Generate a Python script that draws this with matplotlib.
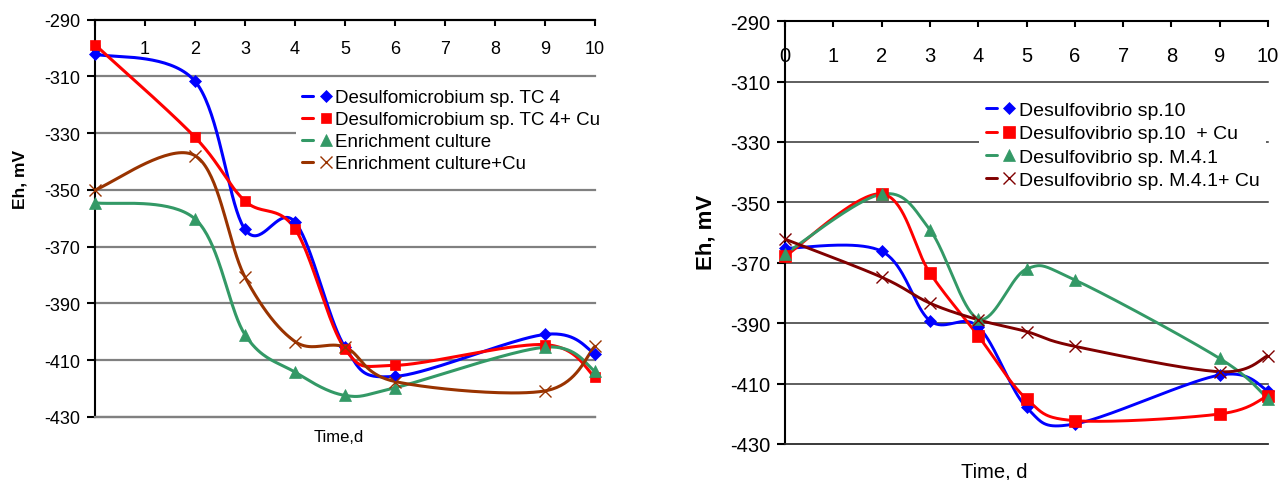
import numpy as np
import matplotlib
matplotlib.use("Agg")
import matplotlib.pyplot as plt
from matplotlib.legend_handler import HandlerTuple

plt.rcParams['font.family'] = ['Liberation Sans', 'DejaVu Sans']

# ---------------- data ----------------
days = [0, 2, 3, 4, 5, 6, 9, 10]
x_ticks = [0, 1, 2, 3, 4, 5, 6, 7, 8, 9, 10]
y_ticks = [-290, -310, -330, -350, -370, -390, -410, -430]

left_labels = ["Desulfomicrobium sp. TC 4", "Desulfomicrobium sp. TC 4+ Cu",
               "Enrichment culture", "Enrichment culture+Cu"]
left_tc4 = [-302.1, -311.7, -363.9, -361.3, -405.4, -415.7, -400.9, -407.7]
left_tc4_cu = [-298.8, -331.4, -353.9, -363.7, -406.0, -411.8, -404.5, -415.9]
left_enrich = [-354.5, -360.2, -401.0, -414.2, -422.4, -419.7, -405.4, -413.8]
left_enrich_cu = [-350.0, -337.9, -380.7, -403.4, -405.4, -417.5, -420.8, -405.1]

right_labels = ["Desulfovibrio sp.10", "Desulfovibrio sp.10  + Cu",
                "Desulfovibrio sp. M.4.1", "Desulfovibrio sp. M.4.1+ Cu"]
right_sp10 = [-365.2, -366.2, -389.2, -391.2, -417.9, -423.4, -407.2, -412.4]
right_sp10_cu = [-367.9, -347.2, -373.4, -394.2, -415.1, -422.3, -420.1, -414.0]
right_m41 = [-367.1, -347.3, -359.1, -388.6, -372.1, -375.7, -401.7, -415.1]
right_m41_cu = [-362.2, -374.8, -383.4, -388.9, -392.8, -397.7, -406.1, -400.8]

W, H = 1281, 481
fig = plt.figure(figsize=(W / 100, H / 100), dpi=100)


def fig_rect(x0, y0, x1, y1):
    return [x0 / W, 1 - y1 / H, (x1 - x0) / W, (y1 - y0) / H]


def smooth(ax, x, y, n=40):
    pts = ax.transData.transform(np.column_stack([x, y]))
    out = []
    for i in range(len(pts) - 1):
        p0 = pts[i - 1] if i > 0 else pts[i]
        p1, p2 = pts[i], pts[i + 1]
        p3 = pts[i + 2] if i + 2 < len(pts) else pts[i + 1]
        c1 = p1 + (p2 - p0) / 6.0
        c2 = p2 - (p3 - p1) / 6.0
        t = np.linspace(0, 1, n)[:, None]
        seg = ((1 - t) ** 3) * p1 + 3 * ((1 - t) ** 2) * t * c1 + 3 * (1 - t) * t ** 2 * c2 + t ** 3 * p2
        out.append(seg if i == 0 else seg[1:])
    res = ax.transData.inverted().transform(np.vstack(out))
    return res[:, 0], res[:, 1]


def setup(ax, grid_color, grid_lw, tick_fs, xpad, spine_lw):
    ax.set_xlim(0, 10)
    ax.set_ylim(-430, -290)
    ax.spines['right'].set_visible(False)
    ax.spines['bottom'].set_color(grid_color)
    ax.spines['bottom'].set_linewidth(grid_lw)
    for s in ['left', 'top']:
        ax.spines[s].set_linewidth(spine_lw)
        ax.spines[s].set_color('black')
    ax.set_yticks(y_ticks)
    ax.set_yticklabels([str(v) for v in y_ticks])
    ax.set_xticks(x_ticks)
    ax.set_xticklabels([str(v) for v in x_ticks])
    ax.xaxis.set_ticks_position('top')
    ax.tick_params(axis='x', top=True, bottom=False, labeltop=True, labelbottom=False,
                   direction='in', length=4.5, width=spine_lw, pad=xpad, labelsize=tick_fs)
    ax.tick_params(axis='y', direction='out', length=5.5, width=spine_lw, pad=5,
                   labelsize=tick_fs)
    ax.yaxis.grid(True, color=grid_color, linewidth=grid_lw)
    for gl in ax.get_ygridlines():
        gl.set_clip_on(False)
    ax.set_axisbelow(True)


# ---------------- left chart ----------------
axL = fig.add_axes(fig_rect(95, 20.7, 595, 418))
setup(axL, '#808080', 1.6, 13, -26.5, 1.5)

left_series = [left_tc4, left_tc4_cu, left_enrich, left_enrich_cu]
left_styles = [
    dict(color='#0000FF', marker='D', ms=6.5, mew=0.5),
    dict(color='#FF0000', marker='s', ms=7.5, mew=0.5),
    dict(color='#339966', marker='^', ms=8.5, mew=0.5),
    dict(color='#993300', marker='x', ms=8, mew=1.0),
]
handlesL = []
for ys, st, lab in zip(left_series, left_styles, left_labels):
    sx, sy = smooth(axL, days, ys)
    ln, = axL.plot(sx, sy, color=st['color'], lw=2.2, solid_capstyle='round', zorder=3)
    mk, = axL.plot(days, ys, ls='none', marker=st['marker'], ms=st['ms'],
                   color=st['color'], mec=st['color'], mew=st['mew'], zorder=4, clip_on=False)
    handlesL.append((ln, mk))

legL = fig.legend(handlesL, left_labels, loc='upper left',
                  bbox_to_anchor=(295.5 / W, 1 - 83.5 / H), bbox_transform=fig.transFigure,
                  fontsize=13.5, frameon=True, facecolor='white', edgecolor='none', framealpha=1,
                  fancybox=False, borderpad=0.35, borderaxespad=0, handlelength=1.55,
                  handletextpad=0.22, labelspacing=0.26, numpoints=1,
                  handler_map={tuple: HandlerTuple(ndivide=None)})

fig.text(20 / W, 1 - 179 / H, 'Eh, mV', rotation=90, ha='center', va='center',
         fontsize=12.5, fontweight='bold')
fig.text(339 / W, 1 - 442 / H, 'Time,d', ha='center', va='baseline', fontsize=12)

# ---------------- right chart ----------------
axR = fig.add_axes(fig_rect(785, 22.1, 1268, 444.9))
setup(axR, '#333333', 1.1, 14.5, -31.5, 1.5)

right_series = [right_sp10, right_sp10_cu, right_m41, right_m41_cu]
right_styles = [
    dict(color='#0000FF', marker='D', ms=6.5, mew=0.5),
    dict(color='#FF0000', marker='s', ms=8, mew=0.5),
    dict(color='#339966', marker='^', ms=9, mew=0.5),
    dict(color='#800000', marker='x', ms=8.5, mew=1.0),
]
handlesR = []
for ys, st, lab in zip(right_series, right_styles, right_labels):
    sx, sy = smooth(axR, days, ys)
    ln, = axR.plot(sx, sy, color=st['color'], lw=2.1, solid_capstyle='round', zorder=3)
    mk, = axR.plot(days, ys, ls='none', marker=st['marker'], ms=st['ms'],
                   color=st['color'], mec=st['color'], mew=st['mew'], zorder=4, clip_on=False)
    handlesR.append((ln, mk))

legR = fig.legend(handlesR, right_labels, loc='upper left',
                  bbox_to_anchor=(979 / W, 1 - 95.5 / H), bbox_transform=fig.transFigure,
                  fontsize=14, frameon=True, facecolor='white', edgecolor='none', framealpha=1,
                  fancybox=False, borderpad=0.35, borderaxespad=0, handlelength=1.5,
                  handletextpad=0.2, labelspacing=0.3, numpoints=1,
                  handler_map={tuple: HandlerTuple(ndivide=None)})

fig.text(706 / W, 1 - 232 / H, 'Eh, mV', rotation=90, ha='center', va='center',
         fontsize=16, fontweight='bold')
fig.text(994 / W, 1 - 477.5 / H, 'Time, d', ha='center', va='baseline', fontsize=14.5)

fig.savefig('out.png', dpi=100)
